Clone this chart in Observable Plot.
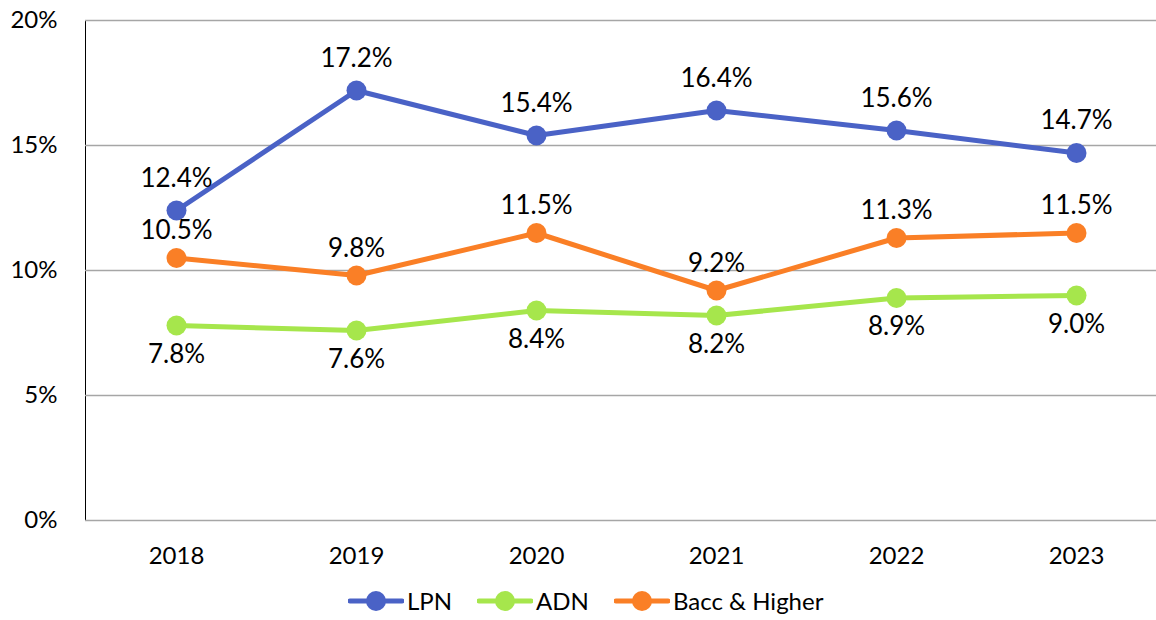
<!DOCTYPE html>
<html>
<head>
<meta charset="utf-8">
<script src="https://cdn.jsdelivr.net/npm/d3@7"></script>
<script src="https://cdn.jsdelivr.net/npm/@observablehq/plot@0.6"></script>
<style>
  html, body { margin: 0; padding: 0; background: #fff; }
  body { width: 1156px; height: 620px; overflow: hidden; position: relative; font-family: Lato, "Open Sans", sans-serif; }
  #chart svg { display: block; }
  #legend { position: absolute; left: 348px; top: 586px; display: flex; align-items: center; font-size: 24px; color: #000; }
  .item { display: flex; align-items: center; margin-right: 25px; }
  .item svg { margin-right: 3px; }
</style>
</head>
<body>
<div id="chart"></div>
<div id="legend"></div>
<script>
const years = ["2018", "2019", "2020", "2021", "2022", "2023"];
const lpn = [12.4, 17.2, 15.4, 16.4, 15.6, 14.7];
const adn = [7.8, 7.6, 8.4, 8.2, 8.9, 9.0];
const bacc = [10.5, 9.8, 11.5, 9.2, 11.3, 11.5];
const seriesNames = ["LPN", "ADN", "Bacc & Higher"];
const seriesColors = ["#4A62C6", "#A6E64C", "#FA7F26"];
const yTicks = [0, 5, 10, 15, 20];

const seriesValues = [lpn, adn, bacc];
const rows = seriesNames.flatMap((name, i) =>
  years.map((year, j) => ({series: name, year, value: seriesValues[i][j]}))
);
const labelOffset = {"LPN": -32, "ADN": 29, "Bacc & Higher": -27};

const marks = [
  Plot.ruleY(yTicks, {stroke: "#a6a6a6", strokeWidth: 1.5}),
  ...seriesNames.map((name, i) =>
    Plot.line(rows.filter(d => d.series === name), {x: "year", y: "value", stroke: seriesColors[i], strokeWidth: 5})
  ),
  ...seriesNames.map((name, i) =>
    Plot.dot(rows.filter(d => d.series === name), {x: "year", y: "value", r: 10, fill: seriesColors[i], stroke: null})
  ),
  ...seriesNames.map((name) =>
    Plot.text(rows.filter(d => d.series === name), {x: "year", y: "value", text: d => d.value.toFixed(1) + "%", dy: labelOffset[name], fontSize: 26, fill: "#000"})
  )
];

const chart = Plot.plot({
  width: 1156,
  height: 578,
  marginLeft: 85,
  marginRight: 0,
  marginTop: 20,
  marginBottom: 58,
  style: {fontFamily: "Lato, 'Open Sans', sans-serif", fontSize: "24px", color: "#000", background: "#fff"},
  x: {type: "point", domain: years, range: [175, 1077.5], padding: 0, label: null, tickSize: 0, tickPadding: 26},
  y: {domain: [0, 20], ticks: yTicks, tickFormat: d => d + "%", label: null, tickSize: 0, tickPadding: 28, line: true},
  marks
});
chart.querySelectorAll("[aria-label='y-axis line'] , [aria-label='y-axis domain']").forEach(e => e.setAttribute("stroke", "#a6a6a6"));
document.getElementById("chart").appendChild(chart);

const legend = document.getElementById("legend");
seriesNames.forEach((name, i) => {
  const item = document.createElement("div");
  item.className = "item";
  item.innerHTML = `<svg width="56" height="24"><line x1="2" x2="54" y1="12" y2="12" stroke="${seriesColors[i]}" stroke-width="5" stroke-linecap="round"/><circle cx="28" cy="12" r="10" fill="${seriesColors[i]}"/></svg><span>${name}</span>`;
  legend.appendChild(item);
});
</script>
</body>
</html>
